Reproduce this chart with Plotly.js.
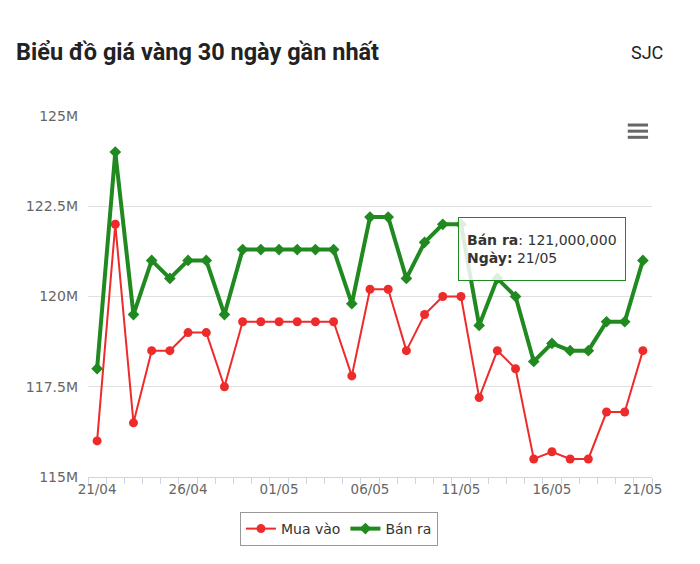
<!DOCTYPE html>
<html>
<head>
<meta charset="utf-8">
<script src="https://cdn.plot.ly/plotly-3.0.1.min.js"></script>
<style>
  html, body { margin: 0; padding: 0; background: #fff; }
  #chart { width: 700px; height: 564px; }
</style>
</head>
<body>
<div id="chart"></div>
<script>
// 30 ngay gan nhat, gia SJC (VND / luong)
var dates = ['21/04','22/04','23/04','24/04','25/04','26/04','27/04','28/04','29/04','30/04',
             '01/05','02/05','03/05','04/05','05/05','06/05','07/05','08/05','09/05','10/05',
             '11/05','12/05','13/05','14/05','15/05','16/05','17/05','18/05','19/05','20/05','21/05'];

// values in million VND
var mua_vao = [116.0, 122.0, 116.5, 118.5, 118.5, 119.0, 119.0, 117.5, 119.3, 119.3,
               119.3, 119.3, 119.3, 119.3, 117.8, 120.2, 120.2, 118.5, 119.5, 120.0,
               120.0, 117.2, 118.5, 118.0, 115.5, 115.7, 115.5, 115.5, 116.8, 116.8, 118.5];
var ban_ra  = [118.0, 124.0, 119.5, 121.0, 120.5, 121.0, 121.0, 119.5, 121.3, 121.3,
               121.3, 121.3, 121.3, 121.3, 119.8, 122.2, 122.2, 120.5, 121.5, 122.0,
               122.0, 119.2, 120.5, 120.0, 118.2, 118.7, 118.5, 118.5, 119.3, 119.3, 121.0];

var series_names = ['Mua vào', 'Bán ra'];
var y_ticks = [115, 117.5, 120, 122.5, 125];

var toVnd = function(v) { return Math.round(v * 1e6); };

var trace_mua = {
  x: dates,
  y: mua_vao.map(toVnd),
  name: series_names[0],
  type: 'scatter',
  mode: 'lines+markers',
  line: {color: '#ee2b2b', width: 2},
  marker: {symbol: 'circle', size: 9, color: '#ee2b2b'}
};

var trace_ban = {
  x: dates,
  y: ban_ra.map(toVnd),
  name: series_names[1],
  type: 'scatter',
  mode: 'lines+markers',
  line: {color: '#208a20', width: 4},
  marker: {symbol: 'diamond', size: 9, color: '#208a20'}
};

var last = ban_ra.length - 1;
var tip = '<b>' + series_names[1] + '</b>: ' + toVnd(ban_ra[last]).toLocaleString('en-US') +
          '<br><b>Ngày:</b> ' + dates[last];

var layout = {
  width: 700,
  height: 564,
  margin: {l: 88, r: 48, t: 116, b: 87},
  paper_bgcolor: '#fff',
  plot_bgcolor: '#fff',
  title: {
    text: '<b>Biểu đồ giá vàng 30 ngày gần nhất</b>',
    font: {family: 'Roboto', size: 23.5, color: '#222'},
    x: 0.023, xanchor: 'left',
    y: 0.908, yanchor: 'middle'
  },
  xaxis: {
    type: 'category',
    range: [-0.5, 30.5],
    tickson: 'boundaries',
    ticklabelstep: 5,
    ticks: 'outside',
    ticklen: 6,
    tickcolor: '#ccd6eb',
    showline: true,
    linecolor: '#ccd6eb',
    linewidth: 1,
    showgrid: false,
    zeroline: false,
    tickangle: 0,
    tickfont: {family: 'DejaVu Sans', size: 13.5, color: '#666'}
  },
  yaxis: {
    range: [115e6, 125e6],
    tickvals: y_ticks.map(toVnd),
    ticktext: y_ticks.map(function(v) { return v + 'M'; }),
    gridcolor: '#e0e0e0',
    gridwidth: 1,
    zeroline: false,
    showline: false,
    ticks: '',
    ticklabelstandoff: 9,
    tickfont: {family: 'DejaVu Sans', size: 14, color: '#666'}
  },
  showlegend: true,
  legend: {
    orientation: 'h',
    x: 0.445, xanchor: 'center',
    y: -0.097, yanchor: 'top',
    bordercolor: '#999',
    borderwidth: 1,
    bgcolor: '#fff',
    font: {family: 'DejaVu Sans', size: 14, color: '#333'},
    itemwidth: 30
  },
  annotations: [
    {
      xref: 'paper', yref: 'paper',
      x: 1.023, y: 1.177, xanchor: 'right', yanchor: 'middle',
      text: 'SJC', showarrow: false,
      font: {family: 'Roboto', size: 18, color: '#222'}
    },
    {
      xref: 'paper', yref: 'paper',
      x: 0.656, y: 0.720, xanchor: 'left', yanchor: 'top',
      text: tip, showarrow: false, align: 'left',
      width: 150, height: 46, borderpad: 8,
      bgcolor: 'rgba(255,255,255,0.85)',
      bordercolor: '#208a20', borderwidth: 1,
      font: {family: 'DejaVu Sans', size: 14, color: '#333'}
    }
  ],
  shapes: [
    {type: 'line', xref: 'paper', yref: 'paper', x0: 0.957, x1: 0.993, y0: 0.975, y1: 0.975, line: {color: '#666', width: 3}},
    {type: 'line', xref: 'paper', yref: 'paper', x0: 0.957, x1: 0.993, y0: 0.958, y1: 0.958, line: {color: '#666', width: 3}},
    {type: 'line', xref: 'paper', yref: 'paper', x0: 0.957, x1: 0.993, y0: 0.941, y1: 0.941, line: {color: '#666', width: 3}}
  ]
};

Plotly.newPlot('chart', [trace_mua, trace_ban], layout, {displayModeBar: false, responsive: false});
</script>
</body>
</html>
